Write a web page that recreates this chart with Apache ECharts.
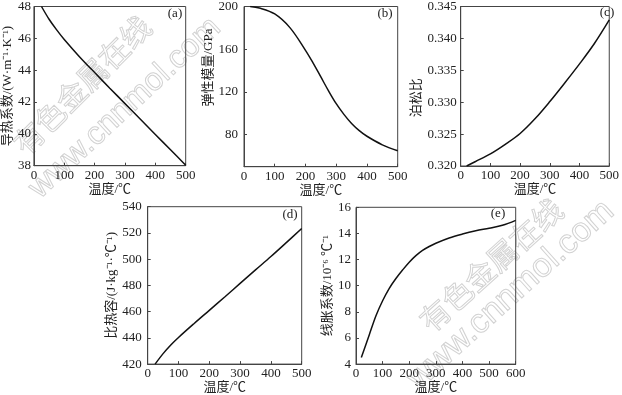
<!DOCTYPE html>
<html><head><meta charset="utf-8">
<script src="https://cdn.jsdelivr.net/npm/echarts@6/dist/echarts.min.js"></script>
<style>html,body{margin:0;padding:0;background:#fff}#c{width:622px;height:395px}</style>
</head><body><div id="c"></div>
<script>
// (a) thermal conductivity
const tempA = [25, 50, 75, 100, 150, 200, 250, 300, 350, 400, 450, 500];
const condA = [48, 47.2, 46.53, 45.93, 44.85, 43.85, 42.87, 41.9, 40.93, 39.96, 39.0, 38.03];
// (b) elastic modulus
const tempB = [20, 50, 100, 150, 200, 225, 250, 275, 300, 325, 350, 375, 400, 450, 500];
const modB = [200, 198.6, 193, 180, 159, 147, 134, 121, 109, 99, 90.5, 83.8, 78.5, 70.5, 65];
// (c) poisson ratio
const tempC = [20, 50, 100, 150, 200, 250, 300, 350, 400, 450, 500];
const poisC = [0.3200, 0.3207, 0.3219, 0.3234, 0.3251, 0.3274, 0.3301, 0.3330, 0.3360, 0.3392, 0.3429];
// (d) specific heat
const tempD = [24, 50, 75, 100, 150, 200, 250, 300, 350, 400, 450, 500];
const heatD = [420, 428, 434.6, 440.3, 450.8, 461, 471.2, 481.5, 491.8, 502, 512.6, 523.4];
// (e) linear expansion
const tempE = [20, 50, 75, 100, 125, 150, 175, 200, 225, 250, 275, 300, 350, 400, 450, 500, 550, 600];
const expE = [4.5, 6.25, 7.7, 8.85, 9.8, 10.55, 11.2, 11.8, 12.3, 12.7, 13.0, 13.25, 13.65, 13.95, 14.2, 14.4, 14.62, 15.0];

const yTicksB = [80, 120, 160, 200];
const panelLabels = ['(a)', '(b)', '(c)', '(d)', '(e)'];
const xName = '温度/℃';
const yNames = ['导热系数/(W·m⁻¹·K⁻¹)', '弹性模量/GPa', '泊松比', '比热容/(J·kg⁻¹·℃⁻¹)', '线胀系数/10⁻⁶ ℃⁻¹'];

const FONT = "'Liberation Serif','Noto Sans CJK SC',serif";
const AX = '#444';
const TXT = '#222';

const grids = [
  {left: 32.3, top: 4, width: 153.4, height: 161.7},
  {left: 244, top: 5.3, width: 153.7, height: 161.4},
  {left: 460.7, top: 5, width: 153.3, height: 161},
  {left: 147.7, top: 206.7, width: 154, height: 161.6},
  {left: 356, top: 207.3, width: 159.7, height: 160.4}
].map(g => Object.assign({show: true, borderColor: AX, borderWidth: 1, backgroundColor: 'transparent'}, g));

function xAxis(i, max) {
  return {
    gridIndex: i, type: 'value', min: 0, max: max, interval: 100,
    name: xName, nameLocation: 'middle', nameGap: 14,
    nameTextStyle: {fontFamily: FONT, fontSize: 13, color: TXT},
    axisLine: {lineStyle: {color: AX, width: 1}},
    axisTick: {inside: true, length: 3, lineStyle: {color: AX}},
    axisLabel: {fontFamily: FONT, fontSize: 13, color: TXT, margin: 3},
    splitLine: {show: false}
  };
}
function yAxis(i, opts) {
  const base = {
    gridIndex: i, type: 'value',
    name: yNames[i], nameLocation: 'middle', nameGap: opts.gap,
    nameTextStyle: {fontFamily: FONT, fontSize: 13, color: TXT, padding: opts.pad || 0},
    axisLine: {lineStyle: {color: AX, width: 1}},
    axisTick: {inside: true, length: 3, lineStyle: {color: AX}},
    axisLabel: {fontFamily: FONT, fontSize: 13, color: TXT, margin: opts.margin},
    splitLine: {show: false}
  };
  return Object.assign(base, opts.extra);
}

const yAxes = [
  yAxis(0, {gap: 17, margin: 3, extra: {min: 38, max: 48, interval: 2}}),
  yAxis(1, {gap: 25, margin: 6, pad: [0, 0, 0, 38], extra: {min: 50, max: 200}}),
  yAxis(2, {gap: 34, margin: 4, pad: [0, 23, 0, 0], extra: {min: 0.320, max: 0.345, interval: 0.005}}),
  yAxis(3, {gap: 23, margin: 6, extra: {min: 420, max: 540, interval: 20}}),
  yAxis(4, {gap: 18, margin: 5, extra: {min: 4, max: 16, interval: 2}})
];
yAxes[1].axisLabel.customValues = yTicksB;
yAxes[1].axisTick.customValues = yTicksB;
yAxes[2].axisLabel.formatter = v => v.toFixed(3);

const xs = [tempA, tempB, tempC, tempD, tempE];
const ys = [condA, modB, poisC, heatD, expE];
const series = xs.map((xarr, i) => ({
  type: 'line', xAxisIndex: i, yAxisIndex: i, smooth: 0.35,
  showSymbol: false, silent: true,
  lineStyle: {color: '#111', width: 1.5}, z: 3,
  data: xarr.map((x, j) => [x, ys[i][j]])
}));

const labelPos = [[175, 14], [385, 14], [607, 13], [290, 215], [498, 214]];
const graphics = labelPos.map((p, i) => ({
  type: 'text', x: p[0], y: p[1], z: 10,
  style: {text: panelLabels[i], font: "13px 'Liberation Serif'", fill: TXT, align: 'center', verticalAlign: 'middle'}
}));

const wm = [
  {t: '有色金属在线', x: 82, y: 85, r: 45, f: "30px 'Noto Sans CJK SC'"},
  {t: 'www.cnnmol.com', x: 125, y: 108, r: 43, f: "32px 'Liberation Sans'"},
  {t: '有色金属在线', x: 491, y: 265, r: 42, f: "30px 'Noto Sans CJK SC'"},
  {t: 'www.cnnmol.com', x: 511, y: 295, r: 42, f: "34px 'Liberation Sans'"}
];
wm.forEach(w => graphics.push({
  type: 'text', x: w.x, y: w.y, rotation: w.r * Math.PI / 180, z: -1, silent: true,
  style: {text: w.t, font: w.f, fill: 'rgba(255,255,255,0)', stroke: '#d2d2d2', lineWidth: 1, align: 'center', verticalAlign: 'middle'}
}));

const chart = echarts.init(document.getElementById('c'), null, {renderer: 'canvas'});
chart.setOption({
  animation: false,
  backgroundColor: '#fff',
  grid: grids,
  xAxis: [xAxis(0, 500), xAxis(1, 500), xAxis(2, 500), xAxis(3, 500), xAxis(4, 600)],
  yAxis: yAxes,
  series: series,
  graphic: graphics
});
</script></body></html>
